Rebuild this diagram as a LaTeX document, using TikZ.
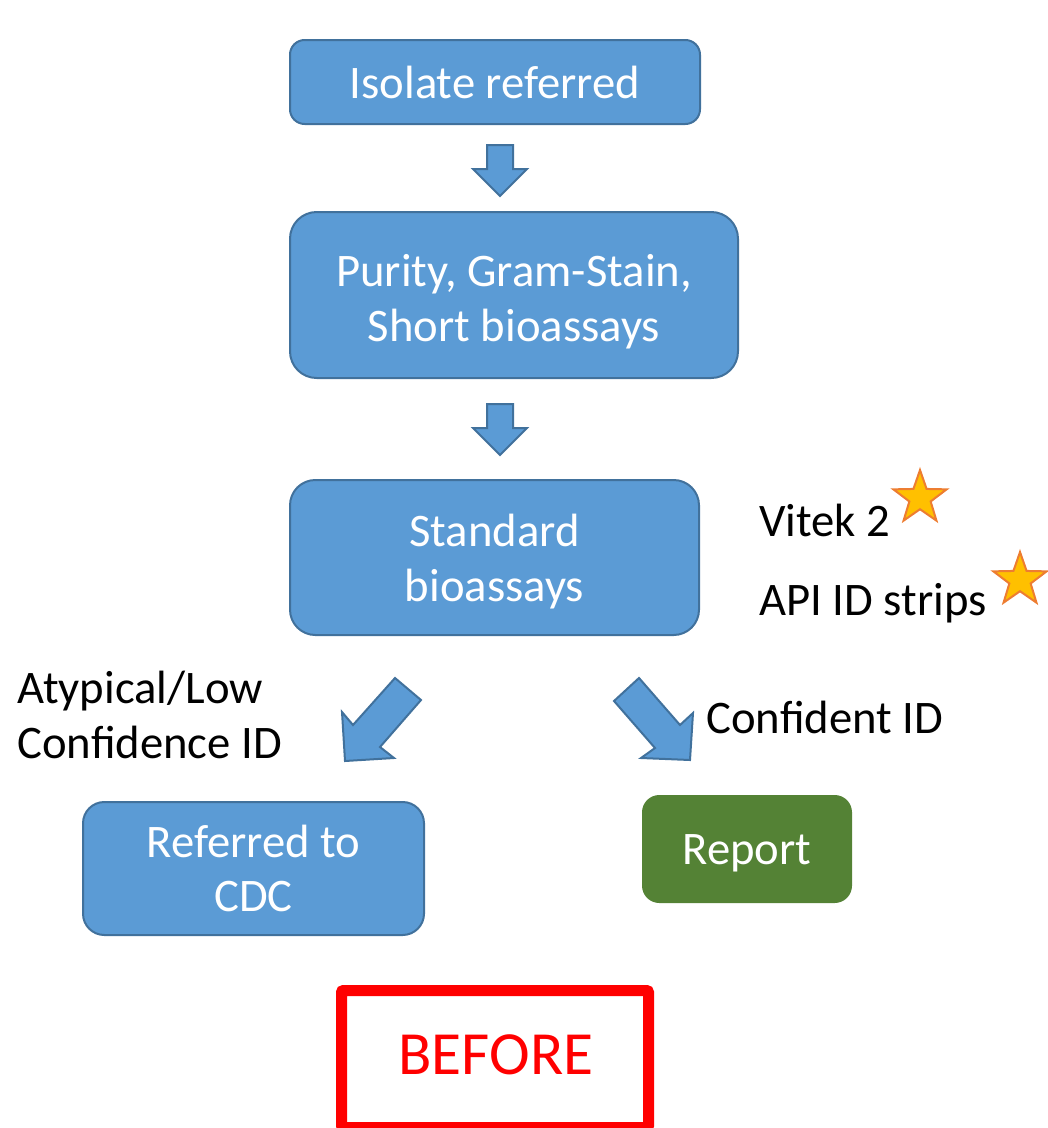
\documentclass[tikz,border=0pt]{standalone}
\usepackage{fontspec}
\setmainfont{Carlito}
\usetikzlibrary{shapes.geometric}
\definecolor{boxblue}{HTML}{5B9BD5}
\definecolor{boxedge}{HTML}{41719C}
\definecolor{boxgreen}{HTML}{548235}
\definecolor{starfill}{HTML}{FFC000}
\definecolor{staredge}{HTML}{ED7D31}
\tikzset{
  bluebox/.style={draw=boxedge, fill=boxblue, line width=1.5pt, inner sep=0pt},
  greenbox/.style={fill=boxgreen, inner sep=0pt},
  boxtext/.style={text=white, align=center, inner sep=0pt, font=\fontsize{35}{41}\selectfont},
  blockarrow/.style={draw=boxedge, fill=boxblue, line width=1.5pt, line join=miter},
  lbl/.style={text=black, anchor=west, align=left, inner sep=0pt, font=\fontsize{35}{41}\selectfont},
  starmark/.style={star, star points=5, star point ratio=2.5, fill=starfill, draw=staredge, line width=1.5pt, inner sep=0pt, minimum size=42pt},
}
\begin{document}
\begin{tikzpicture}[x=0.75pt,y=-0.75pt]
\useasboundingbox (0,0) rectangle (1048,1128);
% boxes
\node[bluebox, rounded corners=11pt, minimum width=307.5pt, minimum height=63pt] (iso) at (495,82) {};
\node[boxtext] (isotxt) at (iso.center) {Isolate referred};
\node[bluebox, rounded corners=20pt, minimum width=336pt, minimum height=124.5pt] (pur) at (514,295) {};
\node[boxtext] (purtxt) at ([yshift=-5pt]pur.center) {Purity, Gram-Stain,\\Short bioassays};
\node[bluebox, rounded corners=19pt, minimum width=306.75pt, minimum height=116.25pt] (std) at (494.5,557.5) {};
\node[boxtext] (stdtxt) at ([yshift=-3pt]std.center) {Standard\\bioassays};
\node[bluebox, rounded corners=16pt, minimum width=255.75pt, minimum height=99.75pt] (cdc) at (253.5,868.5) {};
\node[boxtext] (cdctxt) at (cdc.center) {Referred to\\CDC};
\node[greenbox, rounded corners=13pt, minimum width=157.5pt, minimum height=81pt] (rep) at (747,849) {};
\node[boxtext] (reptxt) at ([yshift=-3.5pt]rep.center) {Report};
% down arrows
\draw[blockarrow] (487,145) -- (513,145) -- (513,169) -- (527,169) -- (500,196) -- (473,169) -- (487,169) -- cycle;
\draw[blockarrow] (487,404) -- (513,404) -- (513,428) -- (527,428) -- (500,455) -- (473,428) -- (487,428) -- cycle;
% diagonal arrows
\draw[blockarrow] (395,678) -- (421,700) -- (380,747) -- (394,758) -- (345,761) -- (342,712) -- (353,725) -- cycle;
\draw[blockarrow] (614,701) -- (639,678) -- (680,725) -- (693,713) -- (690,760) -- (641,758) -- (655,748) -- cycle;
% labels
\node[lbl] (vitek) at (759,520) {Vitek 2};
\node[lbl] (api) at (759,603) {API ID strips};
\node[lbl] (atyp) at (17,715) {Atypical/Low\\Confidence ID};
\node[lbl] (conf) at (706,717) {Confident ID};
% stars
\node[starmark] (star1) at (920,498) {};
\node[starmark] (star2) at (1020,580) {};
% BEFORE
\draw[red, line width=8.25pt, rounded corners=1.5pt] (341.5,990.5) rectangle (648.5,1127.5);
\node[text=red, font=\fontsize{46}{52}\selectfont, inner sep=0pt] (before) at (496,1055) {BEFORE};
\end{tikzpicture}
\end{document}
